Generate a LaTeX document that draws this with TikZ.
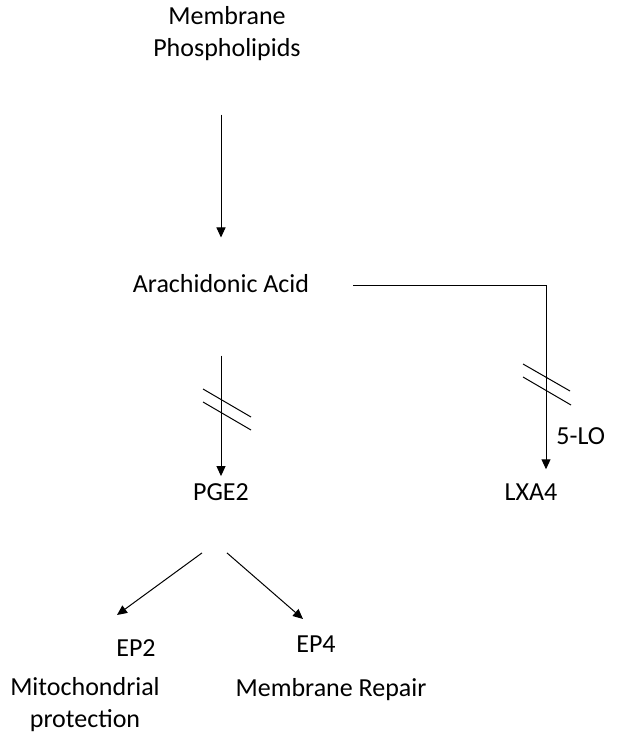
\documentclass[tikz,border=0pt]{standalone}
\usepackage{fontspec}
\setmainfont{Carlito}
\usetikzlibrary{arrows.meta}

\begin{document}
\begin{tikzpicture}[x=0.5pt, y=-0.5pt,
  lbl/.style={font=\fontsize{13}{16}\selectfont, align=center, inner sep=0pt},
  arr/.style={-{Triangle[length=5pt, width=4.5pt]}, line width=0.5pt},
  hash/.style={line width=0.5pt}
]
  \useasboundingbox (0,0) rectangle (621,738);

  \node[lbl] (mem) at (227,34) {Membrane\\Phospholipids};
  \node[lbl] (aa) at (221,284) {Arachidonic Acid};
  \node[lbl] (pge) at (221,492) {PGE2};
  \node[lbl] (lxa) at (531,492) {LXA4};
  \node[lbl] (ep2) at (136,648) {EP2};
  \node[lbl] (ep4) at (316,644) {EP4};
  \node[lbl] (mito) at (85,705) {Mitochondrial\\protection};
  \node[lbl] (repair) at (331,690) {Membrane Repair};
  \node[lbl, anchor=west] (lo) at (556,436) {5-LO};
  \coordinate (corner) at (546,285);
  \coordinate (ep2tip) at (117,615);
  \coordinate (ep4tip) at (303,619);

  \draw[arr, shorten <=26.5pt, shorten >=18.5pt] (mem.south -| aa.north) -- (aa.north);
  \draw[arr, shorten <=31pt, shorten >=3.5pt] (aa.south) -- (pge.north);
  \draw[line width=0.5pt, shorten <=22pt] (aa.east |- corner) -- (corner);
  \draw[arr, shorten >=7pt] (corner) -- (corner |- lxa.north);
  \draw[arr] ([shift={(-19,52)}]pge.south) -- (ep2tip);
  \draw[arr] ([shift={(6,52)}]pge.south) -- (ep4tip);

  % blocked steps
  \draw[hash] (203,389) -- (251,417);
  \draw[hash] (203,402) -- (251,430);
  \draw[hash] (523,364) -- (570,391);
  \draw[hash] (523,377) -- (571,405);
\end{tikzpicture}
\end{document}
